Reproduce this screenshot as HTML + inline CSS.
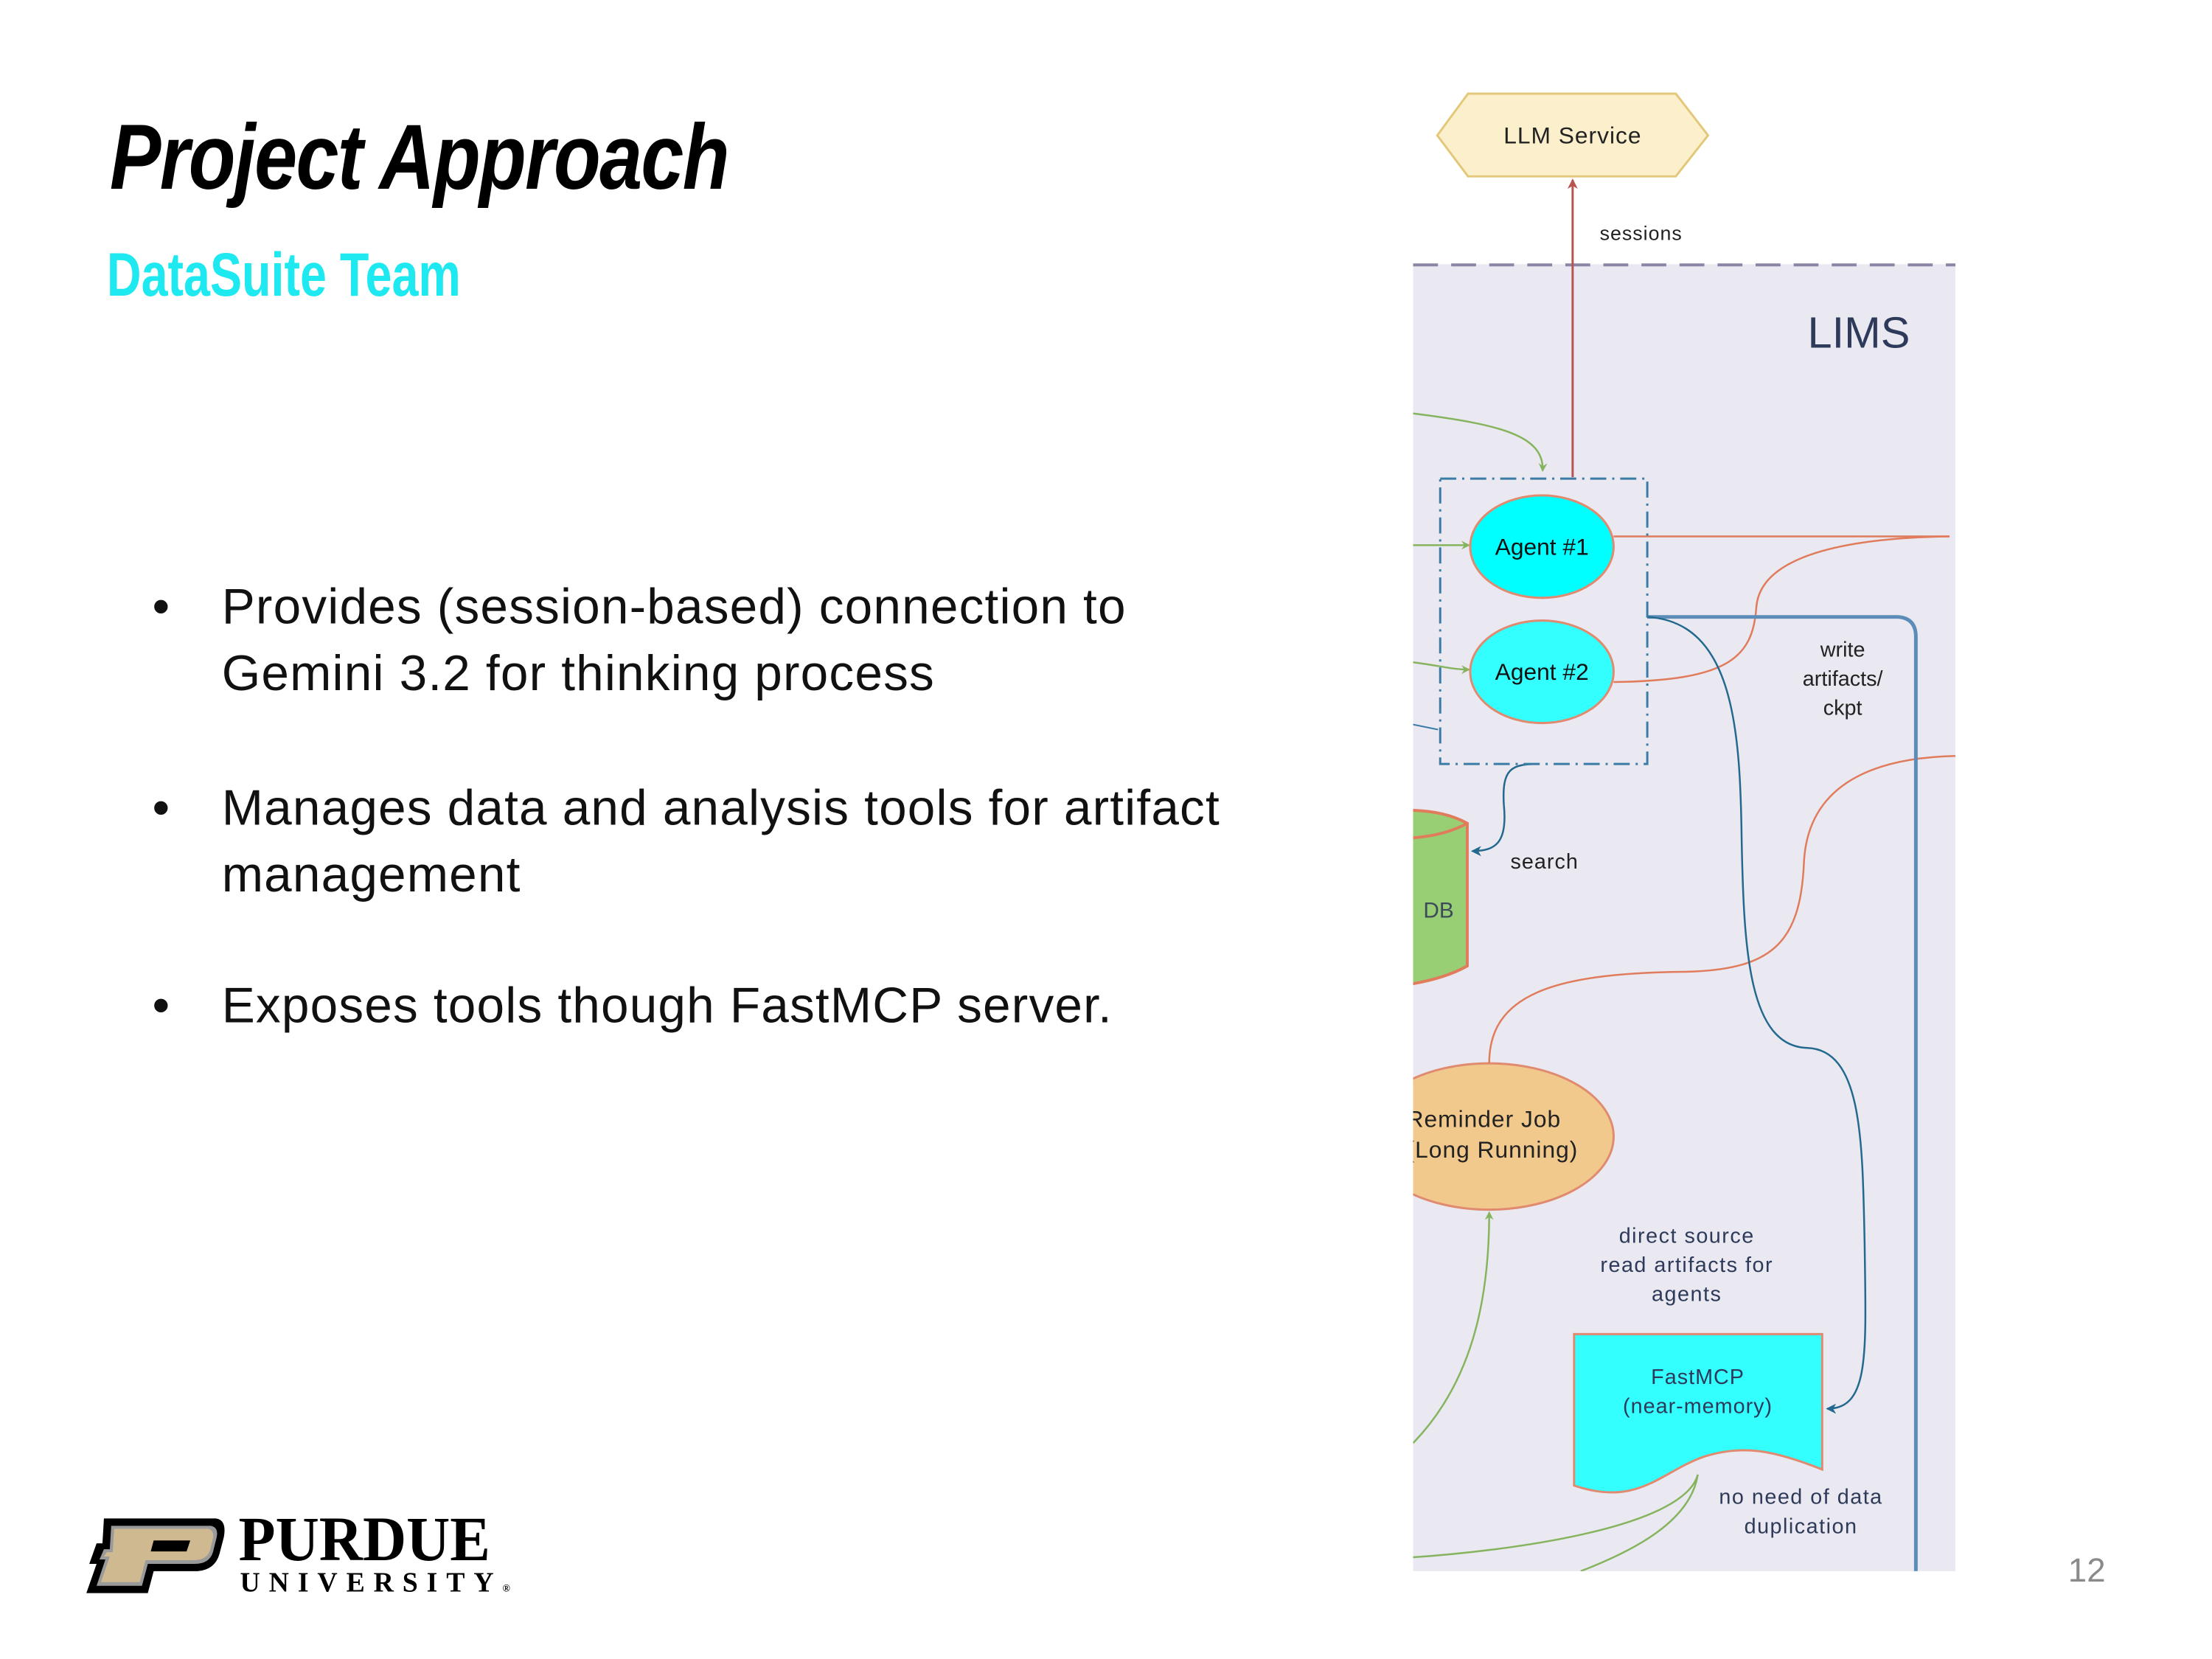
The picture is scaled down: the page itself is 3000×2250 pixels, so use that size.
<!DOCTYPE html>
<html><head><meta charset="utf-8"><style>
html,body{margin:0;padding:0;background:#fff;}
body{width:3000px;height:2250px;position:relative;overflow:hidden;font-family:"Liberation Sans",sans-serif;}
#w{position:absolute;left:0;top:0;width:3000px;height:2250px;transform:scale(0.9925);transform-origin:0 0;}
.t{position:absolute;white-space:nowrap;}
</style></head><body><div id="w">
<div class="t" style="left:150px;top:140px;font-weight:bold;font-style:italic;font-size:126px;line-height:150px;color:#000;letter-spacing:-2px;transform:scaleX(0.834);transform-origin:0 0;">Project Approach</div>
<div class="t" style="left:146px;top:330px;font-weight:bold;font-size:84px;line-height:90px;color:#1FE9F0;transform:scaleX(0.775);transform-origin:0 0;">DataSuite Team</div>

<div class="t" style="left:208px;top:784px;font-size:68px;line-height:91px;color:#111;">•</div>
<div class="t" style="left:303px;top:784px;font-size:68px;line-height:91px;color:#111;letter-spacing:1.2px;">Provides (session-based) connection to<br>Gemini 3.2 for thinking process</div>
<div class="t" style="left:208px;top:1059px;font-size:68px;line-height:91px;color:#111;">•</div>
<div class="t" style="left:303px;top:1059px;font-size:68px;line-height:91px;color:#111;letter-spacing:1.2px;">Manages data and analysis tools for artifact<br>management</div>
<div class="t" style="left:208px;top:1329px;font-size:68px;line-height:91px;color:#111;">•</div>
<div class="t" style="left:303px;top:1329px;font-size:68px;line-height:91px;color:#111;letter-spacing:1.2px;">Exposes tools though FastMCP server.</div>

<div class="t" style="left:2826px;top:2118px;font-size:46px;color:#8a8a8a;">12</div>

<svg class="t" style="left:110px;top:2065px" width="200" height="120" viewBox="0 0 200 120">
<path d="M32,10 L185,10 Q200,12 196,35 L190,58 Q184,80 160,82 L100,82 L92,112 L8,112 L22,72 L12,72 L22,44 L30,44 Z" fill="#000"/>
<path d="M42,20 L178,20 Q189,22 186,36 L181,56 Q176,72 156,72 L92,72 L84,102 L22,102 L34,66 L26,66 L32,52 L40,52 Z" fill="#9a9a9a"/>
<path d="M46,24 L174,24 Q183,26 181,37 L177,54 Q172,67 154,67 L89,67 L81,97 L28,97 L40,62 L32,62 L36,56 L44,56 Z" fill="#CFB991"/>
<path d="M100,40 L150,40 L145,55 L96,55 Z" fill="#000"/>
</svg>
<div class="t" style="left:326px;top:2060px;font-family:'Liberation Serif',serif;font-weight:bold;font-size:86px;line-height:86px;color:#000;letter-spacing:0px;transform:scaleX(0.96);transform-origin:0 0;">PURDUE</div>
<div class="t" style="left:328px;top:2143px;font-family:'Liberation Serif',serif;font-weight:bold;font-size:38px;line-height:40px;color:#000;letter-spacing:12px;">UNIVERSITY<span style="font-size:14px;letter-spacing:0">®</span></div>

<svg class="t" style="left:0;top:0" width="3000" height="2250" viewBox="0 0 3000 2250" font-family="Liberation Sans, sans-serif">
<defs>
<clipPath id="c"><rect x="1931" y="361" width="741" height="1786"/></clipPath>
<marker id="ag" markerWidth="12" markerHeight="12" refX="10" refY="6" orient="auto" markerUnits="userSpaceOnUse"><path d="M0,0 L12,6 L0,12 L4,6 Z" fill="#86B45E"/></marker>
<marker id="ab" markerWidth="14" markerHeight="14" refX="12" refY="7" orient="auto" markerUnits="userSpaceOnUse"><path d="M0,0 L14,7 L0,14 L4,7 Z" fill="#23698F"/></marker>
<marker id="ar" markerWidth="14" markerHeight="14" refX="12" refY="7" orient="auto" markerUnits="userSpaceOnUse"><path d="M0,0 L14,7 L0,14 L4,7 Z" fill="#B85450"/></marker>
</defs>
<rect x="1931" y="361" width="741" height="1786" fill="#EAE9F1"/>
<line x1="1931" y1="362" x2="2672" y2="362" stroke="#8A87A6" stroke-width="4" stroke-dasharray="34,18"/>
<g clip-path="url(#c)">
<path d="M1880,1110 Q1960,1100 2005,1125 L2005,1320 Q1960,1345 1880,1350 Z" fill="#98CF74" stroke="#E07B5C" stroke-width="4"/>
<path d="M1880,1145 Q1960,1150 2005,1125" fill="none" stroke="#E07B5C" stroke-width="4"/>
<text x="1945" y="1254" font-size="30" fill="#3d4a5a">DB</text>
<ellipse cx="2035" cy="1553" rx="170" ry="100" fill="#F2C98C" stroke="#E08A70" stroke-width="3"/>
<text x="1922" y="1540" font-size="32" fill="#222" letter-spacing="1">Reminder Job</text>
<text x="1922" y="1582" font-size="32" fill="#222" letter-spacing="1">(Long Running)</text>
<path d="M1931,565 C2050,580 2110,595 2108,643" fill="none" stroke="#86B45E" stroke-width="2.5" marker-end="url(#ag)"/>
<path d="M1931,745 L2007,745" fill="none" stroke="#86B45E" stroke-width="2.5" marker-end="url(#ag)"/>
<path d="M1931,905 C1970,910 1985,915 2007,915" fill="none" stroke="#86B45E" stroke-width="2.5" marker-end="url(#ag)"/>
<path d="M1931,990 L1965,997" fill="none" stroke="#3A7CA5" stroke-width="2"/>
<path d="M1931,1972 C2010,1890 2035,1780 2035,1657" fill="none" stroke="#86B45E" stroke-width="2.5" marker-end="url(#ag)"/>
<path d="M2320,2015 C2300,2090 2050,2120 1931,2128" fill="none" stroke="#86B45E" stroke-width="2.5"/>
<path d="M2320,2015 C2310,2080 2230,2120 2160,2147" fill="none" stroke="#86B45E" stroke-width="2.5"/>
<path d="M2205,733 L2664,733" fill="none" stroke="#E07B5C" stroke-width="2.5"/>
<path d="M2205,932 C2360,930 2395,900 2400,830 C2405,760 2520,735 2664,733" fill="none" stroke="#E07B5C" stroke-width="2.5"/>
<path d="M2035,1453 C2035,1360 2120,1330 2300,1328 C2420,1326 2460,1290 2465,1180 C2470,1060 2580,1035 2672,1033" fill="none" stroke="#E07B5C" stroke-width="2.5"/>
<path d="M2251,843 L2594,843 Q2618,845 2618,870 L2618,2147" fill="none" stroke="#5B8DB8" stroke-width="5"/>
<path d="M2251,843 C2370,850 2378,1000 2380,1150 C2383,1300 2390,1430 2470,1432 C2545,1435 2545,1560 2548,1700 C2550,1850 2555,1925 2497,1925" fill="none" stroke="#23698F" stroke-width="2.5" marker-end="url(#ab)"/>
<path d="M2103,1044 C2065,1044 2052,1050 2055,1100 C2060,1150 2045,1163 2012,1163" fill="none" stroke="#23698F" stroke-width="2.5" marker-end="url(#ab)"/>
</g>
<rect x="1968" y="654" width="283" height="390" fill="none" stroke="#3A7CA5" stroke-width="3" stroke-dasharray="22,8,3,8"/>
<ellipse cx="2107" cy="747" rx="98" ry="70" fill="#00FFFF" stroke="#E08A70" stroke-width="3"/>
<ellipse cx="2107" cy="918" rx="98" ry="70" fill="#33FFFF" stroke="#E08A70" stroke-width="3"/>
<text x="2107" y="758" font-size="32" fill="#111" text-anchor="middle">Agent #1</text>
<text x="2107" y="929" font-size="32" fill="#111" text-anchor="middle">Agent #2</text>
<polygon points="1964,185 2006,128 2290,128 2334,185 2290,241 2006,241" fill="#FCEFCB" stroke="#E2C878" stroke-width="3"/>
<text x="2149" y="196" font-size="32" fill="#222" text-anchor="middle" letter-spacing="1">LLM Service</text>
<line x1="2149" y1="652" x2="2149" y2="246" stroke="#B85450" stroke-width="3" marker-end="url(#ar)"/>
<text x="2186" y="328" font-size="27" fill="#222" letter-spacing="1">sessions</text>
<text x="2470" y="475" font-size="60" fill="#2E3A5A">LIMS</text>
<text x="2518" y="897" font-size="29" fill="#222" text-anchor="middle">write</text>
<text x="2518" y="937" font-size="29" fill="#222" text-anchor="middle">artifacts/</text>
<text x="2518" y="977" font-size="29" fill="#222" text-anchor="middle">ckpt</text>
<text x="2064" y="1187" font-size="29" fill="#222" letter-spacing="1">search</text>
<text x="2305" y="1698" font-size="29" fill="#2E3A5A" text-anchor="middle" letter-spacing="1.5">direct source</text>
<text x="2305" y="1738" font-size="29" fill="#2E3A5A" text-anchor="middle" letter-spacing="1.5">read artifacts for</text>
<text x="2305" y="1778" font-size="29" fill="#2E3A5A" text-anchor="middle" letter-spacing="1.5">agents</text>
<path d="M2151,1823 L2490,1823 L2490,2008 C2420,1980 2380,1975 2330,1990 C2270,2010 2240,2060 2151,2030 Z" fill="#33FFFF" stroke="#E08A70" stroke-width="3"/>
<text x="2320" y="1891" font-size="29" fill="#2E3A5A" text-anchor="middle" letter-spacing="1">FastMCP</text>
<text x="2320" y="1931" font-size="29" fill="#2E3A5A" text-anchor="middle" letter-spacing="1">(near-memory)</text>
<text x="2461" y="2055" font-size="29" fill="#2E3A5A" text-anchor="middle" letter-spacing="1.5">no need of data</text>
<text x="2461" y="2095" font-size="29" fill="#2E3A5A" text-anchor="middle" letter-spacing="1.5">duplication</text>
</svg>
</div></body></html>
